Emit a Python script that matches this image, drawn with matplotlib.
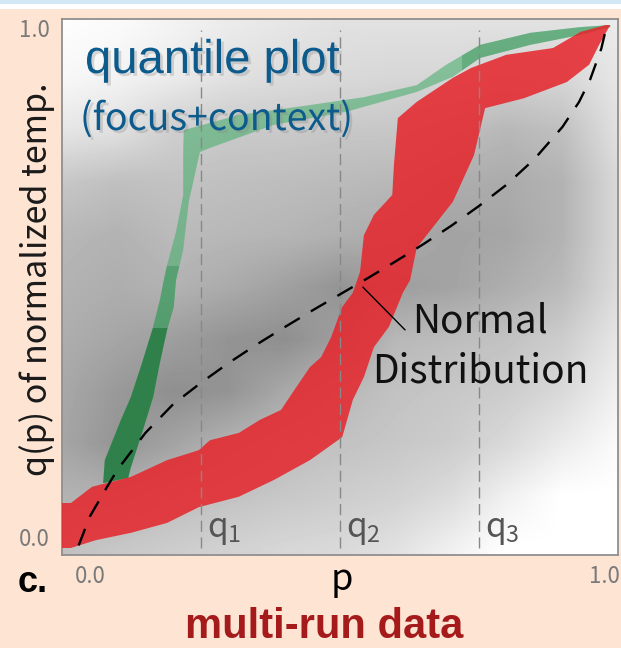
import numpy as np
import matplotlib
matplotlib.use("Agg")
import matplotlib.pyplot as plt
from matplotlib import patheffects as pe
from matplotlib import font_manager as fm
from matplotlib.patches import Rectangle

# ---------------- data ----------------
# grey context: density of the multi-run quantile curves (darkness 0..1),
# rows = q from 0.0 to 1.0, columns = p from 0.0 to 1.0, step 0.1
CTX_P = [0.0, 0.1, 0.2, 0.3, 0.4, 0.5, 0.6, 0.7, 0.8, 0.9, 1.0]
CTX_Q = [0.0, 0.1, 0.2, 0.3, 0.4, 0.5, 0.6, 0.7, 0.8, 0.9, 1.0]
CTX_DENSITY = [
    [0.25, 0.22, 0.20, 0.18, 0.16, 0.15, 0.12, 0.06, 0.00, 0.00, 0.00],  # q=0.0
    [0.30, 0.30, 0.26, 0.24, 0.22, 0.20, 0.18, 0.14, 0.06, 0.00, 0.00],  # q=0.1
    [0.35, 0.42, 0.36, 0.30, 0.26, 0.24, 0.22, 0.20, 0.15, 0.08, 0.02],  # q=0.2
    [0.34, 0.40, 0.44, 0.42, 0.34, 0.28, 0.24, 0.22, 0.20, 0.15, 0.06],  # q=0.3
    [0.32, 0.35, 0.38, 0.42, 0.44, 0.38, 0.28, 0.26, 0.24, 0.20, 0.10],  # q=0.4
    [0.30, 0.32, 0.30, 0.33, 0.37, 0.42, 0.38, 0.36, 0.32, 0.27, 0.14],  # q=0.5
    [0.28, 0.30, 0.27, 0.28, 0.29, 0.31, 0.33, 0.36, 0.35, 0.30, 0.15],  # q=0.6
    [0.22, 0.25, 0.24, 0.25, 0.26, 0.27, 0.28, 0.32, 0.33, 0.30, 0.15],  # q=0.7
    [0.10, 0.12, 0.19, 0.21, 0.21, 0.22, 0.22, 0.25, 0.28, 0.25, 0.12],  # q=0.8
    [0.03, 0.05, 0.08, 0.12, 0.14, 0.15, 0.16, 0.16, 0.18, 0.16, 0.10],  # q=0.9
    [0.01, 0.02, 0.05, 0.08, 0.10, 0.12, 0.12, 0.12, 0.12, 0.12, 0.08],  # q=1.0
]

# red focus run: upper-left edge and lower-right edge of the band
RED_TOP_P = [0.0, 0.0, 0.016, 0.054, 0.124, 0.189, 0.246, 0.266, 0.318, 0.356, 0.394, 0.414,
             0.446, 0.466, 0.484, 0.504, 0.523, 0.536, 0.543, 0.561, 0.594, 0.597, 0.604,
             0.638, 0.703, 0.736, 0.799, 0.883, 0.933, 0.978, 0.998]
RED_TOP_Q = [0.0, 0.086, 0.086, 0.117, 0.136, 0.168, 0.187, 0.206, 0.220, 0.245, 0.264, 0.296,
             0.346, 0.365, 0.403, 0.461, 0.488, 0.528, 0.598, 0.637, 0.675, 0.732, 0.822,
             0.853, 0.899, 0.918, 0.943, 0.956, 0.987, 1.0, 1.0]
RED_BOT_P = [0.016, 0.061, 0.124, 0.189, 0.246, 0.318, 0.381, 0.446, 0.504, 0.523, 0.543,
             0.561, 0.588, 0.613, 0.626, 0.638, 0.703, 0.741, 0.761, 0.831, 0.908, 0.948,
             0.966, 0.986, 0.998]
RED_BOT_Q = [0.0, 0.015, 0.029, 0.048, 0.078, 0.098, 0.130, 0.168, 0.212, 0.283, 0.327,
             0.384, 0.423, 0.488, 0.512, 0.574, 0.662, 0.751, 0.841, 0.860, 0.891, 0.924,
             0.962, 1.0, 1.0]

# green focus run
GRN_TOP_P = [0.074, 0.077, 0.106, 0.124, 0.144, 0.164, 0.176, 0.183, 0.189, 0.205, 0.218,
             0.218, 0.219, 0.318, 0.446, 0.543, 0.638, 0.691, 0.752, 0.842, 0.932, 0.986]
GRN_TOP_Q = [0.124, 0.168, 0.245, 0.289, 0.354, 0.423, 0.474, 0.512, 0.541, 0.604, 0.675,
             0.761, 0.799, 0.828, 0.847, 0.862, 0.885, 0.924, 0.962, 0.985, 0.996, 1.0]
GRN_BOT_P = [0.119, 0.124, 0.144, 0.164, 0.176, 0.189, 0.201, 0.205, 0.218, 0.228, 0.248,
             0.266, 0.381, 0.511, 0.638, 0.703, 0.752, 0.842, 0.932, 0.986]
GRN_BOT_Q = [0.134, 0.155, 0.220, 0.289, 0.354, 0.417, 0.461, 0.512, 0.570, 0.662, 0.757,
             0.765, 0.809, 0.834, 0.872, 0.901, 0.937, 0.962, 0.981, 0.996]

# normal distribution reference curve
NORM_P = [0.03, 0.05, 0.08, 0.1, 0.15, 0.2, 0.25, 0.3, 0.35, 0.4, 0.45, 0.5, 0.55, 0.6,
          0.65, 0.7, 0.75, 0.8, 0.85, 0.9, 0.93, 0.95, 0.97, 0.98]
NORM_Q = [0.005, 0.06, 0.115, 0.15, 0.22, 0.275, 0.316, 0.354, 0.389, 0.422, 0.454, 0.485,
          0.516, 0.548, 0.581, 0.616, 0.654, 0.695, 0.744, 0.805, 0.853, 0.896, 0.955, 1.0]

# quartile markers
Q_MARKS = [0.25, 0.5, 0.75]
Q_LABELS = ["q_1", "q_2", "q_3"]
X_TICK_LABELS = ["0.0", "1.0"]
Y_TICK_LABELS = ["0.0", "1.0"]
NORMAL_POINT = (0.541, 0.499)
NORMAL_TEXT_ANCHOR = (0.617, 0.417)

# ---------------- fonts ----------------
names = {f.name for f in fm.fontManager.ttflist}
HUMAN = [n for n in ["Noto Sans CJK JP", "Noto Sans CJK SC", "Noto Sans CJK KR",
                     "Noto Sans CJK TC"] if n in names] + ["DejaVu Sans"]

# ---------------- figure ----------------
W, H = 621, 648
fig = plt.figure(figsize=(W / 100, H / 100), dpi=100, facecolor="#fde4d3")
fig.patches.append(Rectangle((0, 1 - 4 / H), 1, 4 / H, transform=fig.transFigure,
                             facecolor="#d3e9f6", edgecolor="none", zorder=0))
fig.patches.append(Rectangle((0, 1 - 9 / H), 1, 5 / H, transform=fig.transFigure,
                             facecolor="white", edgecolor="none", zorder=0))

ax = fig.add_axes([62 / W, 1 - 555 / H, 556 / W, 536 / H])
ax.set_facecolor("white")
ax.set_xticks([])
ax.set_yticks([])
for s in ax.spines.values():
    s.set_color("#8f8f8f")
    s.set_linewidth(1.3)

# context density
dp = (CTX_P[1] - CTX_P[0]) / 2
dq = (CTX_Q[1] - CTX_Q[0]) / 2
ax.imshow(np.array(CTX_DENSITY), origin="lower", cmap="gray_r", vmin=0, vmax=1,
          interpolation="bilinear", aspect="auto", zorder=1,
          extent=[CTX_P[0] - dp, CTX_P[-1] + dp, CTX_Q[0] - dq, CTX_Q[-1] + dq])

# green run
gx = np.r_[GRN_TOP_P, GRN_BOT_P[::-1]]
gy = np.r_[GRN_TOP_Q, GRN_BOT_Q[::-1]]
ax.fill(gx, gy, color="#46ad6b", alpha=0.58, lw=0, zorder=3)
dark = ax.fill(gx, gy, color="#267a42", alpha=0.85, lw=0, zorder=3)[0]
dark.set_clip_path(Rectangle((0, -0.1), 1, 0.52, transform=ax.transData))
trans = ax.fill(gx, gy, color="#2f8a4f", alpha=0.4, lw=0, zorder=3)[0]
trans.set_clip_path(Rectangle((0, 0.42), 1, 0.12, transform=ax.transData))
mid = ax.fill(gx, gy, color="#2f8a4f", alpha=0.35, lw=0, zorder=3)[0]
mid.set_clip_path(Rectangle((0.72, 0.9), 0.3, 0.2, transform=ax.transData))

# red run
rx = np.r_[RED_TOP_P, RED_BOT_P[::-1]]
ry = np.r_[RED_TOP_Q, RED_BOT_Q[::-1]]
ax.fill(rx, ry, color="#e5252b", alpha=0.86, lw=0, zorder=4)

# quartile lines
ax.vlines(Q_MARKS, 0, 0.99, colors="#888888", lw=1.0, linestyles=(0, (8, 4)), zorder=5)
for p, lab in zip(Q_MARKS, Q_LABELS):
    ax.text(p + 0.011, 0.021, r"$\mathregular{%s}$" % lab, color="#555555", fontsize=24,
            ha="left", va="baseline", zorder=6, family=HUMAN)

# normal curve
ax.plot(NORM_P, NORM_Q, color="black", lw=1.7, dashes=(7.5, 5.5), zorder=5)
ax.annotate("", xy=NORMAL_POINT, xytext=NORMAL_TEXT_ANCHOR,
            arrowprops=dict(arrowstyle="-", lw=1.0, color="black", shrinkA=0, shrinkB=0),
            zorder=6)
ax.text(0.752, 0.413, "Normal", fontsize=28, family=HUMAN, ha="center", va="baseline",
        color="#111111", zorder=6)
ax.text(0.752, 0.317, "Distribution", fontsize=28, family=HUMAN, ha="center",
        va="baseline", color="#111111", zorder=6)

ax.set_xlim(0, 1)
ax.set_ylim(-0.0134, 1.0115)

# tick labels
tick_kw = dict(fontsize=16, color="#7a7a7a", family=HUMAN, transform=ax.transAxes)
ax.text(-0.0216, 0.978, Y_TICK_LABELS[1], ha="right", va="center", **tick_kw)
ax.text(-0.0216, 0.028, Y_TICK_LABELS[0], ha="right", va="center", **tick_kw)
ax.text(0.0504, -0.041, X_TICK_LABELS[0], ha="center", va="center", **tick_kw)
ax.text(1.0036, -0.041, X_TICK_LABELS[1], ha="right", va="center", **tick_kw)
ax.text(0.5036, -0.065, "p", transform=ax.transAxes, ha="center", va="baseline",
        fontsize=26, color="black", family=HUMAN)

# titles / labels
shadow = [pe.SimplePatchShadow(offset=(2, -2), shadow_rgbFace="#888888", alpha=0.3),
          pe.Normal()]
fig.text(85 / W, 1 - 73 / H, "quantile plot", fontsize=34, family="Liberation Sans",
         color="#0c5b8c", ha="left", va="baseline", path_effects=shadow)
fig.text(80 / W, 1 - 130 / H, "(focus+context)", fontsize=27, color="#0c5b8c",
         ha="left", va="baseline", path_effects=shadow, family=HUMAN)
fig.text(37 / W, 1 - 279 / H, "q(p) of normalized temp.", fontsize=24.5, family=HUMAN,
         rotation=90, ha="center", va="center", color="#1a1a1a")
fig.text(18 / W, 1 - 592 / H, "c.", fontsize=26, family="Liberation Sans",
         fontweight="bold", color="black", ha="left", va="baseline")
fig.text(324 / W, 1 - 638 / H, "multi-run data", fontsize=30, family="Liberation Sans",
         fontweight="bold", color="#a51b1b", ha="center", va="baseline")

fig.savefig("out.png", dpi=100, facecolor=fig.get_facecolor())
